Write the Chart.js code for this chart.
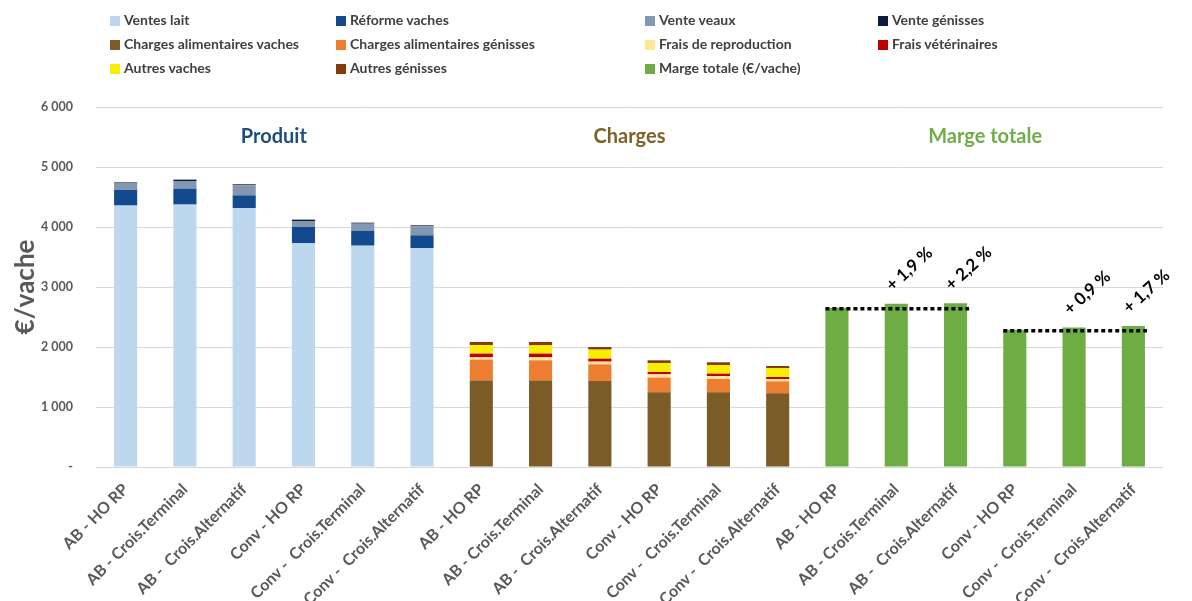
<!DOCTYPE html>
<html>
<head>
<meta charset="utf-8">
<script src="https://cdn.jsdelivr.net/npm/chart.js@4.4.0/dist/chart.umd.min.js"></script>
<style>
  body { margin: 0; background: #fff; font-family: Lato, "Open Sans", sans-serif; }
  #wrap { position: relative; width: 1192px; height: 601px; overflow: hidden; }
  #myChart { position: absolute; left: 0; top: 0; }
  #legend { position: absolute; left: 0; top: 8px; width: 1192px; }
  .item { position: absolute; font-weight: 700; font-size: 14px; color: #404040; white-space: nowrap; line-height: 16px; }
  .item span.box { display: inline-block; width: 10px; height: 10px; margin-right: 4px; vertical-align: -1px; }
</style>
</head>
<body>
<div id="wrap">
  <canvas id="myChart" width="1192" height="601"></canvas>
  <div id="legend"></div>
</div>
<script>
  // categories (3 groups of 6 systems)
  var systems = ["AB - HO RP", "AB - Crois.Terminal", "AB -  Crois.Alternatif", "Conv - HO RP", "Conv -  Crois.Terminal", "Conv -  Crois.Alternatif"];
  var groupTitles = ["Produit", "Charges", "Marge totale"];
  var groupColors = ["#1F4E79", "#7F6026", "#70AD47"];

  // produit
  var ventesLait = [4357, 4373, 4317, 3728, 3689, 3650];
  var reformeVaches = [260, 267, 211, 272, 244, 211];
  var venteVeaux = [117, 127, 167, 100, 123, 150];
  var venteGenisses = [10, 23, 17, 23, 16, 17];

  // charges
  var chargesAlimVaches = [1440, 1440, 1433, 1245, 1245, 1228];
  var chargesAlimGenisses = [350, 338, 278, 245, 222, 200];
  var fraisRepro = [38, 50, 45, 55, 50, 39];
  var fraisVeto = [62, 62, 50, 38, 39, 33];
  var autresVaches = [143, 138, 150, 150, 144, 145];
  var autresGenisses = [50, 55, 44, 45, 45, 38];

  // marge
  var margeTotale = [2656, 2720, 2730, 2289, 2325, 2348];
  var margePct = ["", "+ 1,9 %", "+ 2,2 %", "", "+ 0,9 %", "+ 1,7 %"];

  var yTicks = [0, 1000, 2000, 3000, 4000, 5000, 6000];

  var labels = systems.concat(systems, systems);

  function inGroup(values, g) {
    var out = [];
    for (var i = 0; i < 18; i++) out.push(null);
    for (var j = 0; j < values.length; j++) out[g * 6 + j] = values[j];
    return out;
  }

  function ds(label, values, g, color) {
    return { label: label, data: inGroup(values, g), backgroundColor: color, borderWidth: 0 };
  }

  var datasets = [
    ds("Ventes lait", ventesLait, 0, "#BDD7EE"),
    ds("Réforme vaches", reformeVaches, 0, "#134A8E"),
    ds("Vente veaux", venteVeaux, 0, "#8497B0"),
    ds("Vente génisses", venteGenisses, 0, "#0C1E40"),
    ds("Charges alimentaires vaches", chargesAlimVaches, 1, "#7B5C27"),
    ds("Charges alimentaires génisses", chargesAlimGenisses, 1, "#ED7D31"),
    ds("Frais de reproduction", fraisRepro, 1, "#FFE699"),
    ds("Frais vétérinaires", fraisVeto, 1, "#C00000"),
    ds("Autres vaches", autresVaches, 1, "#F7EE00"),
    ds("Autres génisses", autresGenisses, 1, "#843C0C"),
    ds("Marge totale (€/vache)", margeTotale, 2, "#6EAC44")
  ];

  // group titles, dotted reference lines and % labels
  var extras = {
    id: 'extras',
    afterDatasetsDraw: function(chart) {
      var c = chart.ctx, x = chart.scales.x, y = chart.scales.y;
      c.save();
      c.textAlign = 'center';
      c.textBaseline = 'middle';
      c.font = 'bold 20px Lato, sans-serif';
      for (var g = 0; g < 3; g++) {
        var cx = (x.getPixelForValue(g * 6 + 2) + x.getPixelForValue(g * 6 + 3)) / 2;
        c.fillStyle = groupColors[g];
        c.fillText(groupTitles[g], cx, y.getPixelForValue(5500));
      }
      var bars = chart.getDatasetMeta(datasets.length - 1).data.slice(12);
      c.strokeStyle = '#000';
      c.lineWidth = 3.5;
      c.setLineDash([4, 3]);
      [0, 3].forEach(function(s) {
        var b0 = bars[s], b2 = bars[s + 2];
        c.beginPath();
        c.moveTo(b0.x - b0.width / 2, b0.y + 1);
        c.lineTo(b2.x + b2.width / 2 + 2, b0.y + 1);
        c.stroke();
      });
      c.setLineDash([]);
      c.fillStyle = '#000';
      c.font = 'bold 17px Lato, sans-serif';
      c.textAlign = 'left';
      c.textBaseline = 'alphabetic';
      for (var i = 0; i < bars.length; i++) {
        if (!margePct[i]) continue;
        c.save();
        c.translate(bars[i].x - 4, bars[i].y - 12);
        c.rotate(-42 * Math.PI / 180);
        c.fillText(margePct[i], 0, 0);
        c.restore();
      }
      c.restore();
    }
  };

  var ctx = document.getElementById("myChart").getContext('2d');
  var myChart = new Chart(ctx, {
    type: 'bar',
    data: { labels: labels, datasets: datasets },
    options: {
      responsive: false,
      animation: false,
      layout: { padding: { top: 107, right: 29, left: 0, bottom: 0 } },
      datasets: { bar: { barPercentage: 0.39, categoryPercentage: 1 } },
      plugins: { legend: { display: false }, tooltip: { enabled: false } },
      scales: {
        x: {
          stacked: true,
          afterFit: function(s) { s.height = 134; },
          grid: { display: false },
          border: { display: false },
          ticks: {
            autoSkip: false, minRotation: 45, maxRotation: 45, padding: 5,
            color: '#595959', font: { family: 'Lato', size: 16, weight: 'bold' }
          }
        },
        y: {
          stacked: true,
          min: 0, max: 6000,
          afterFit: function(s) { s.width = 96; },
          afterBuildTicks: function(s) { s.ticks = yTicks.map(function(v) { return { value: v }; }); },
          border: { display: false },
          grid: { color: '#D9D9D9', lineWidth: 1, drawTicks: false },
          ticks: {
            padding: 23, color: '#595959', font: { family: 'Lato', size: 12.5, weight: 'bold' },
            callback: function(v) { return v === 0 ? '-' : String(v).replace(/(\d)(\d{3})$/, '$1 $2'); }
          },
          title: {
            display: true, text: '€/vache', color: '#595959',
            font: { family: 'Lato', size: 26, weight: 'bold' }, padding: { top: 10, bottom: 0 }
          }
        }
      }
    },
    plugins: [extras]
  });

  // html legend, 4 columns like the original
  var colX = [110, 336, 645, 878];
  var legend = document.getElementById('legend');
  myChart.data.datasets.forEach(function(d, i) {
    var el = document.createElement('div');
    el.className = 'item';
    el.style.left = colX[i % 4] + 'px';
    el.style.top = (Math.floor(i / 4) * 24 + 4) + 'px';
    el.innerHTML = '<span class="box" style="background:' + d.backgroundColor + '"></span>' + d.label;
    legend.appendChild(el);
  });
</script>
</body>
</html>
